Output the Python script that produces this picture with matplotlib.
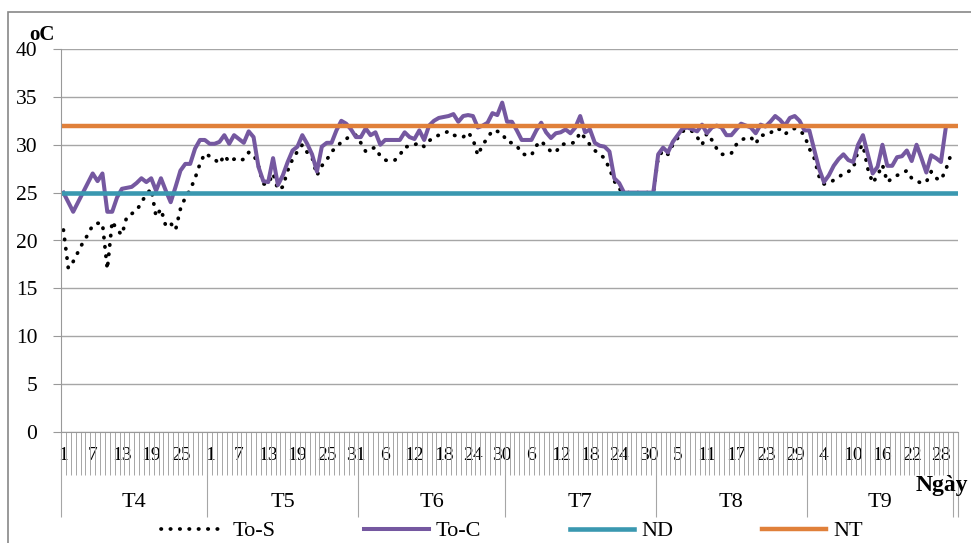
import numpy as np
import matplotlib.pyplot as plt
from matplotlib.patches import Rectangle

plt.rcParams['font.family'] = ['Liberation Serif', 'DejaVu Serif']

months = ['T4', 'T5', 'T6', 'T7', 'T8', 'T9']
month_days = [30, 31, 30, 31, 31, 30]
tick_labels = ['1', '7', '13', '19', '25',
               '1', '7', '13', '19', '25', '31',
               '6', '12', '18', '24', '30',
               '6', '12', '18', '24', '30',
               '5', '11', '17', '23', '29',
               '4', '10', '16', '22', '28']

# To-S (dotted black)
to_s_t4 = [21.1, 17.1, 17.8, 18.8, 19.8, 20.6, 21.6, 21.8, 21.8, 17, 22, 21.1, 20.6, 22.5, 22.8,
           23.1, 24, 24.8, 25.4, 22.5, 23.3, 21.5, 21.8, 21.1, 23.3, 24.5, 25.3, 26.5, 28, 29.1]
to_s_t5 = [28.8, 28.5, 28, 28.9, 28.2, 28.5, 28.3, 28.5, 29.2, 29, 27.8, 25.9, 25.9, 27, 25.3, 25.6,
           27.3, 28.5, 29.3, 30, 29.2, 28.7, 26.8, 27.8, 28.4, 29.3, 29.7, 30.3, 30.6, 31, 31]
to_s_t6 = [30.2, 29.3, 29.6, 29.7, 28.8, 28.4, 28.3, 28.4, 28.9, 29.8, 29.8, 30, 30.2, 29.8, 30.4,
           30.8, 31, 31.2, 31.4, 31, 30.9, 30.8, 31.3, 30.6, 28.9, 30, 30.7, 31.5, 31.4, 31.2]
to_s_t7 = [30.3, 30.2, 29.9, 29.1, 28.9, 28.9, 29.9, 30.4, 29.8, 29.3, 29.2, 30, 30.1, 30.1, 30.3, 31.3,
           30.7, 30, 29.4, 29, 28.6, 27.5, 26.2, 25.4, 25, 25, 25, 25, 25, 25, 25]
to_s_t8 = [28.7, 29.4, 29, 30, 30.7, 31.4, 31.6, 31.4, 30.8, 30, 31.2, 30.5, 29.6, 29, 29, 29.1,
           30, 30.5, 30.7, 30.8, 30.1, 31, 31, 31.2, 31.7, 31.6, 31.1, 31.5, 31.7, 31.5, 31]
to_s_t9 = [29.6, 28.6, 26.7, 25.9, 26, 26.3, 26.6, 27, 27.2, 27.5, 29.4, 30, 27.5, 26, 26.8,
           27.9, 26.1, 26.5, 26.8, 27, 27.3, 26.5, 26.2, 26, 26.1, 27.2, 26.5, 26.3, 27.4, 28.9]

# To-C (purple)
to_c_t4 = [25, 24, 23, 24, 25, 26, 27, 26.2, 27, 23, 23, 24.5, 25.4, 25.5, 25.6,
           26, 26.5, 26.1, 26.5, 25.2, 26.5, 25.2, 24, 25.6, 27.3, 28, 28, 29.6, 30.5, 30.5]
to_c_t5 = [30.1, 30.1, 30.3, 31, 30.1, 31, 30.6, 30.2, 31.4, 30.8, 27.7, 26.2, 26.1, 28.6, 25.8, 26.8,
           28.2, 29.4, 29.8, 31, 30.1, 29, 27.2, 29.8, 30.2, 30.2, 31.5, 32.5, 32.2, 31.6, 30.8]
to_c_t6 = [30.8, 31.7, 31, 31.3, 30, 30.5, 30.5, 30.5, 30.5, 31.3, 30.8, 30.6, 31.5, 30.5, 32,
           32.5, 32.8, 32.9, 33, 33.2, 32.4, 33, 33.1, 33, 31.8, 32, 32.3, 33.3, 33.1, 34.4]
to_c_t7 = [32.4, 32.4, 31.5, 30.5, 30.5, 30.5, 31.5, 32.3, 31.3, 30.7, 31.2, 31.3, 31.6, 31.2, 31.8, 33,
           31.3, 31.6, 30.2, 29.9, 29.8, 29.3, 26.5, 26, 25, 25, 25, 25, 25, 25, 25]
to_c_t8 = [29, 29.7, 29.2, 30.3, 31, 31.7, 31.8, 31.6, 31.4, 32.1, 31.2, 31.8, 32, 31.8, 31, 31,
           31.6, 32.2, 32, 31.8, 31.2, 32.1, 31.9, 32.4, 33, 32.6, 32, 32.8, 33, 32.5, 31.5]
to_c_t9 = [31.5, 29.5, 27.5, 26.1, 26.8, 27.8, 28.5, 29, 28.4, 28.2, 30, 31, 29, 27, 27.7,
           30, 27.8, 27.8, 28.7, 28.8, 29.4, 28.3, 30, 28.6, 27.1, 28.9, 28.6, 28.2, 31.8, np.nan]

nd = 25
nt = 32

to_s = to_s_t4 + to_s_t5 + to_s_t6 + to_s_t7 + to_s_t8 + to_s_t9
to_c = to_c_t4 + to_c_t5 + to_c_t6 + to_c_t7 + to_c_t8 + to_c_t9

W, H = 971, 543
fig = plt.figure(figsize=(W / 100, H / 100), dpi=100)
ax = fig.add_axes([61 / W, 111 / H, 897 / W, 383 / H])

n = len(to_s)
x = np.arange(n) + 0.5
ax.plot(x, to_s, color='black', lw=2.7, ls=(0, (0.1, 2.4)), dash_capstyle='round', label='To-S')
ax.plot(x, to_c, color='#7558A0', lw=2.9, solid_joinstyle='round', label='To-C')
ax.axhline(nd, color='#3A98B0', lw=3.3, label='ND')
ax.axhline(nt, color='#E0803A', lw=3.2, label='NT')

ax.set_xlim(0, n + 1)
ax.set_ylim(0, 40)
ax.set_yticks(range(0, 41, 5))
ax.yaxis.grid(True, color='#A6A6A6', lw=1)
ax.set_axisbelow(True)
for s in ['top', 'right']:
    ax.spines[s].set_visible(False)
for s in ['left', 'bottom']:
    ax.spines[s].set_color('#999999')
ax.tick_params(axis='y', length=6, color='#999999', labelsize=15.5, pad=11)

# category ticks
ax.set_xticks(np.arange(n + 2), minor=True)
ax.set_xticks(np.arange(0, n, 6) + 0.5)
ax.set_xticklabels(tick_labels)
ax.tick_params(axis='x', which='minor', length=31, width=0.7, color='#A6A6A6')
ax.tick_params(axis='x', which='major', length=0, pad=11, labelsize=14)

# month groups
bounds = np.concatenate([[0], np.cumsum(month_days), [n + 1]])
ax.vlines(bounds, -0.222, 0, transform=ax.get_xaxis_transform(), clip_on=False,
          color='#A6A6A6', lw=0.8)
for i, m in enumerate(months):
    c = bounds[i] + month_days[i] / 2
    ax.text(c, -0.185, m, transform=ax.get_xaxis_transform(), ha='center', va='center', fontsize=16)

fig.text(968 / W, 1 - 486 / H, 'Ngày', fontsize=17, fontweight='bold', va='center', ha='right')
fig.text(29 / W, 1 - 35 / H, 'oC', fontsize=15, fontweight='bold', va='center', ha='left')

fig.patches.append(Rectangle((8 / W, -0.1), 1.2, 1 - 12 / H + 0.1, transform=fig.transFigure,
                             fill=False, ec='#888888', lw=1.2))

handles, labels = ax.get_legend_handles_labels()
fig.legend(handles, labels, loc='center', bbox_to_anchor=(512 / W, 12 / H), ncol=4, frameon=False,
           fontsize=16, handlelength=2.9, handletextpad=0.3, columnspacing=4.0)

fig.savefig('out.png', dpi=100)
